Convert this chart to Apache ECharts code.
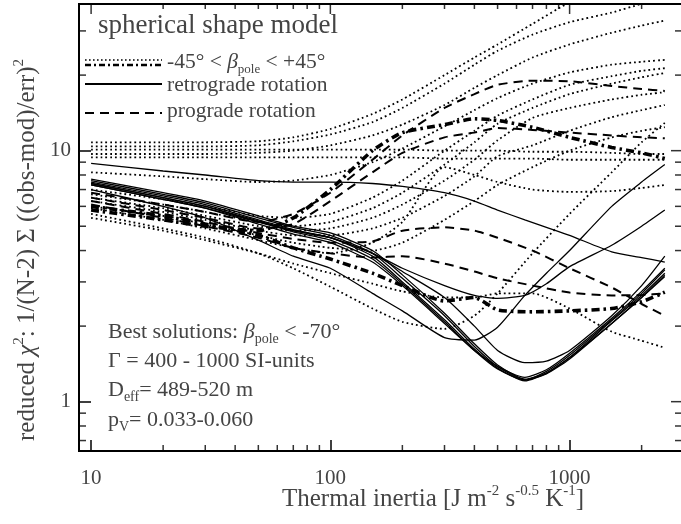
<!DOCTYPE html>
<html><head><meta charset="utf-8">
<script src="https://cdn.jsdelivr.net/npm/echarts@6/dist/echarts.min.js"></script>
<style>html,body{margin:0;padding:0;background:#fff;overflow:hidden}#c{width:681px;height:524px}</style>
</head><body><div id="c"></div>
<script>
// ---- x grids (thermal inertia) ----
const gridX = [10, 20, 30, 50, 70, 100, 150, 200, 300, 400, 500, 700, 1000, 1500, 2000, 2500];
const gridXs = [10, 20, 30, 50, 70, 100, 150, 200, 300, 400, 500, 650, 800, 1000, 1500, 2000, 2500];

// ---- dotted: -45 < beta_pole < +45 ----
const dot1 = [10.8, 10.8, 10.8, 10.9, 11.3, 12.2, 14.0, 16.0, 20.0, 23.5, 26.5, 32, 39, 46, 51, 55];
const dot2 = [10.4, 10.4, 10.4, 10.5, 10.9, 11.6, 13.0, 14.8, 18.5, 22, 25, 29, 32.5, 35.5, 38.5, 41];
const dot3 = [9.7, 9.7, 9.7, 9.8, 10.0, 10.5, 11.5, 12.7, 15.2, 17.8, 20, 23.5, 26.5, 29.5, 31.5, 33];
const dot4 = [10.1, 10.1, 10.1, 10.1, 10.1, 10.1, 10.1, 10.1, 10.0, 10.0, 10.0, 9.9, 9.9, 9.8, 9.7, 9.7];
const dot5 = [9.4, 9.4, 9.4, 9.4, 9.4, 9.4, 9.4, 9.4, 9.3, 9.3, 9.3, 9.3, 9.2, 9.2, 9.2, 9.2];
const dot6 = [8.2, 7.9, 7.7, 7.5, 7.6, 8.0, 9.0, 10.2, 12.5, 14.5, 16.2, 18.5, 20.5, 22, 22.6, 23];
const dot7 = [7.0, 6.4, 6.0, 5.5, 5.4, 5.6, 6.5, 7.6, 10.0, 12.0, 13.8, 16.0, 18.3, 19.8, 20.8, 21.3];
const dot8 = [6.7, 6.1, 5.7, 5.2, 5.0, 5.2, 5.9, 6.8, 8.8, 10.8, 12.8, 14.8, 16.8, 18.5, 19.6, 20.4];
const dot9 = [6.5, 5.9, 5.5, 5.0, 4.8, 4.9, 5.4, 6.1, 7.6, 9.2, 11.0, 13.5, 14.8, 16.0, 16.7, 17.1];
const dot10 = [6.3, 5.7, 5.3, 4.8, 4.6, 4.6, 4.9, 5.4, 6.6, 7.9, 9.5, 10.5, 12.0, 13.6, 14.5, 15.2];
const dot11 = [6.0, 5.5, 5.1, 4.6, 4.3, 4.1, 4.0, 4.3, 5.3, 6.3, 7.3, 8.6, 10.0, 11.3, 12.0, 12.4];
const dot12 = [5.6, 4.9, 4.5, 3.9, 3.4, 2.87, 2.35, 2.08, 1.95, 2.2, 2.7, 3.9, 5.6, 8.2, 10.8, 12.9];
const dot13 = [5.9, 5.3, 4.9, 4.4, 4.1, 3.9, 4.3, 5.2, 8.6, 8.0, 7.5, 7.0, 6.85, 6.9, 7.1, 7.3];
const dot14 = [5.4, 4.8, 4.4, 3.9, 3.55, 3.25, 2.95, 2.75, 2.6, 2.6, 2.7, 2.7, 2.35, 1.9, 1.75, 1.64];

// ---- dash-dot (thick): -45 < beta_pole < +45 ----
const dd1 = [5.8, 5.3, 5.0, 4.8, 5.4, 7.0, 10.0, 11.8, 12.7, 13.4, 13.2, 12.4, 11.3, 10.3, 9.8, 9.3];
const dd2 = [6.0, 5.5, 5.1, 4.6, 4.1, 3.7, 3.25, 2.9, 2.52, 2.6, 2.32, 2.28, 2.3, 2.35, 2.5, 2.73];

// ---- dashed: prograde rotation ----
const pro1 = [6.8, 6.1, 5.7, 5.2, 5.6, 6.8, 9.2, 11.5, 14.8, 16.8, 18.3, 19.0, 18.9, 18.1, 17.6, 17.3];
const pro2 = [6.5, 5.8, 5.4, 4.9, 5.1, 6.3, 8.2, 9.8, 11.3, 11.8, 12.3, 12.1, 11.8, 11.5, 11.3, 11.2];
const pro3 = [6.3, 5.6, 5.2, 4.7, 4.45, 4.3, 4.35, 4.8, 4.95, 4.8, 4.5, 4.0, 3.4, 2.85, 2.45, 2.2];
const pro4 = [6.1, 5.4, 5.0, 4.5, 4.1, 3.9, 3.75, 3.8, 3.55, 3.3, 3.1, 2.9, 2.72, 2.65, 2.66, 2.7];

// ---- solid: retrograde rotation (on gridXs) ----
const ret1 = [8.9, 8.3, 8.0, 7.6, 7.5, 7.5, 7.4, 7.2, 6.8, 6.3, 5.8, 5.3, 4.95, 4.6, 3.95, 3.75, 3.6];
const ret2 = [7.0, 6.0, 5.4, 4.4, 3.8, 3.4, 2.7, 2.3, 1.8, 1.76, 1.98, 2.65, 3.25, 4.0, 6.0, 7.5, 8.8];
const ret3 = [7.4, 6.5, 6.0, 5.25, 4.8, 4.5, 3.9, 3.4, 2.9, 2.65, 2.58, 2.65, 2.95, 3.45, 4.2, 5.0, 5.8];
const ret4 = [7.3, 6.4, 5.9, 5.2, 4.8, 4.5, 3.9, 3.3, 2.6, 2.0, 1.6, 1.43, 1.45, 1.6, 2.2, 2.9, 3.8];
const ret5 = [7.7, 6.8, 6.3, 5.5, 5.0, 4.7, 4.0, 3.2, 2.25, 1.7, 1.4, 1.23, 1.3, 1.5, 2.05, 2.6, 3.15];
const ret6 = [7.6, 6.7, 6.2, 5.4, 4.95, 4.6, 3.9, 3.1, 2.2, 1.66, 1.38, 1.22, 1.29, 1.48, 2.05, 2.6, 3.2];
const ret7 = [7.5, 6.6, 6.1, 5.3, 4.85, 4.5, 3.8, 3.0, 2.12, 1.62, 1.36, 1.21, 1.3, 1.5, 2.1, 2.65, 3.25];
const ret8 = [7.4, 6.5, 6.0, 5.2, 4.75, 4.4, 3.7, 2.95, 2.08, 1.6, 1.35, 1.22, 1.32, 1.53, 2.12, 2.7, 3.35];
const ret9 = [7.3, 6.4, 5.9, 5.1, 4.65, 4.3, 3.6, 2.9, 2.05, 1.6, 1.38, 1.25, 1.34, 1.56, 2.15, 2.75, 3.4];

// ---- axis ticks ----
const xMajorTicks = [10, 100, 1000];
const xMinorTicks = [20, 30, 40, 50, 60, 70, 80, 90, 200, 300, 400, 500, 600, 700, 800, 900, 2000];
const yMajorTicks = [1, 10];
const yMinorTicks = [0.7, 0.8, 0.9, 2, 3, 4, 5, 6, 7, 8, 9, 20, 30];

const X_MIN = 8.9, X_MAX = 2950, Y_MIN = 0.636, Y_MAX = 38.4;
const FONT = '"Liberation Serif", "DejaVu Serif", serif';
const TXT = '#444';

function pts(xs, ys) { return xs.map((x, i) => [x, ys[i]]); }
const S_DOT = { color: '#000', width: 1.8, type: [1.8, 3], cap: 'butt' };
const S_DD = { color: '#000', width: 3.6, type: [8, 4, 2.5, 4], cap: 'butt' };
const S_DASH = { color: '#000', width: 2, type: [9, 6], cap: 'butt' };
const S_SOLID = { color: '#000', width: 1.3, type: 'solid' };

const series = [];
function add(xs, ys, style) {
  series.push({ type: 'line', data: pts(xs, ys), showSymbol: false, symbol: 'none',
    smooth: 0.2, lineStyle: style, silent: true, animation: false, clip: true });
}
[dot1, dot2, dot3, dot4, dot5, dot6, dot7, dot8, dot9, dot10, dot11, dot12, dot13, dot14].forEach(d => add(gridX, d, S_DOT));
[dd1, dd2].forEach(d => add(gridX, d, S_DD));
[pro1, pro2, pro3, pro4].forEach(d => add(gridX, d, S_DASH));
[ret1, ret2, ret3, ret4, ret5, ret6, ret7, ret8, ret9].forEach(d => add(gridXs, d, S_SOLID));

// inward tick marks for the minor ticks and for the top / right frame sides:
// small rect symbols centred just inside each edge (offset given as a factor in value space)
const inY = p => Math.pow(10, p / 251);    // factor moving p px along the y scale
const inX = p => Math.pow(10, p / 239.3);  // factor moving p px along the x scale
function tickSeries(data, w, h) {
  series.push({ type: 'scatter', data: data, symbol: 'rect', symbolSize: [w, h], clip: false,
    silent: true, animation: false, z: 5, itemStyle: { color: '#000' } });
}
tickSeries(xMinorTicks.map(v => [v, Y_MIN * inY(3)]), 1.5, 6);
tickSeries(xMajorTicks.map(v => [v, Y_MAX / inY(5)]), 1.5, 10);
tickSeries(xMinorTicks.map(v => [v, Y_MAX / inY(2.5)]), 1.5, 5);
tickSeries(yMinorTicks.map(v => [X_MIN * inX(3.5), v]), 7, 1.5);
tickSeries(yMajorTicks.map(v => [X_MAX / inX(6), v]), 10, 1.5);
tickSeries(yMinorTicks.map(v => [X_MAX / inX(4), v]), 6, 1.5);

function axis(isX) {
  return {
    type: 'log', min: isX ? X_MIN : Y_MIN, max: isX ? X_MAX : Y_MAX,
    axisLine: { show: true, onZero: false, lineStyle: { color: '#000', width: 2 } },
    axisTick: { show: true, inside: true, length: isX ? 11 : 12, lineStyle: { color: '#000', width: 1.5 } },
    axisLabel: { show: true, showMinLabel: false, showMaxLabel: false, margin: isX ? 17 : 8,
      color: TXT, fontSize: 21, fontFamily: FONT, formatter: function (v) { return String(Math.round(v)); } },
    splitLine: { show: false }
  };
}

function mkRich(s) {
  return {
    n: { fontSize: s, fontFamily: FONT, fill: TXT, lineHeight: s + 6 },
    i: { fontSize: s, fontFamily: FONT, fill: TXT, lineHeight: s + 6, fontStyle: 'italic' },
    sup: { fontSize: Math.round(s * 0.6), fontFamily: FONT, fill: TXT, lineHeight: Math.round(s * 0.6), verticalAlign: 'top' },
    sub: { fontSize: Math.round(s * 0.62), fontFamily: FONT, fill: TXT, lineHeight: Math.round(s * 0.62), verticalAlign: 'bottom' }
  };
}
function txt(x, y, text, size, extra) {
  return { type: 'text', x: x, y: y, silent: true,
    style: Object.assign({ text: text, rich: mkRich(size), align: 'left', verticalAlign: 'middle', fill: TXT, font: size + 'px ' + FONT }, extra || {}) };
}
function seg(x1, y1, x2, y2, style) {
  return { type: 'line', silent: true, z: 100, shape: { x1: x1, y1: y1, x2: x2, y2: y2 }, style: Object.assign({ stroke: '#000' }, style) };
}

const yTitle = txt(27, 250, '{n|reduced }{i|χ}{sup|2}{n|: 1/(N-2) Σ ((obs-mod)/err)}{sup|2}', 25, { align: 'center' });
yTitle.rotation = Math.PI / 2;

const graphic = [
  txt(98, 26, '{n|spherical shape model}', 27),
  seg(85, 60, 162, 60, { lineWidth: 1.6, lineDash: [1.6, 2.4] }),
  seg(85, 65, 162, 65, { lineWidth: 2.5, lineDash: [6, 3, 2, 3] }),
  txt(167, 62, '{n|-45° < }{i|β}{sub|pole}{n| < +45°}', 21.5),
  seg(85, 84, 162, 84, { lineWidth: 2 }),
  txt(167, 85, '{n|retrograde rotation}', 21.5),
  seg(85, 113, 162, 113, { lineWidth: 2, lineDash: [9, 6] }),
  txt(167, 111, '{n|prograde rotation}', 21.5),
  txt(108, 332, '{n|Best solutions: }{i|β}{sub|pole}{n| < -70°}', 22),
  txt(108, 361, '{n|Γ = 400 - 1000 SI-units}', 22),
  txt(108, 390, '{n|D}{sub|eff}{n|= 489-520 m}', 22),
  txt(108, 420, '{n|p}{sub|V}{n|= 0.033-0.060}', 22),
  txt(282, 499, '{n|Thermal inertia [J m}{sup|-2}{n| s}{sup|-0.5}{n| K}{sup|-1}{n|]}', 25),
  yTitle
];

const chart = echarts.init(document.getElementById('c'));
chart.setOption({
  animation: false,
  backgroundColor: '#fff',
  grid: { left: 79, right: -1, top: 4, bottom: 73, containLabel: false, outerBoundsMode: 'none',
    show: true, borderColor: '#000', borderWidth: 2, backgroundColor: 'transparent' },
  xAxis: axis(true),
  yAxis: axis(false),
  series: series,
  graphic: graphic
});
</script></body></html>
